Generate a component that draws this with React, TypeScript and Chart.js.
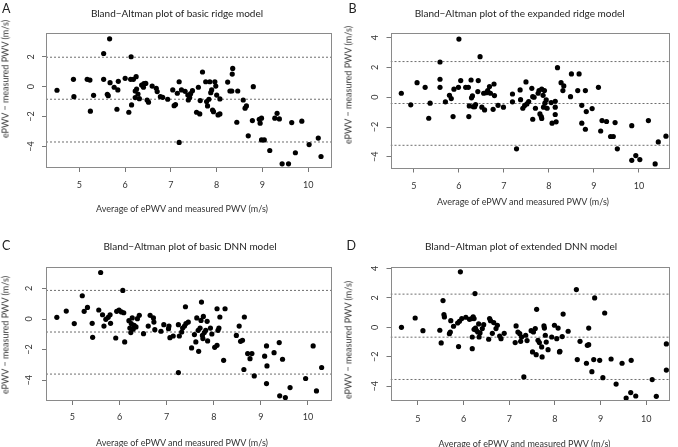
import React, { useEffect, useRef } from 'react';
import { Chart, registerables } from 'chart.js';

Chart.register(...registerables);

// ---------- data ----------
const X_TICKS = [5, 6, 7, 8, 9, 10];
const Y_TICKS_AC = [-4, -2, 0, 2];
const Y_TICKS_BD = [-4, -2, 0, 2, 4];

const TITLE_A = 'Bland\u2212Altman plot of basic ridge model';
const TITLE_B = 'Bland\u2212Altman plot of the expanded ridge model';
const TITLE_C = 'Bland\u2212Altman plot of basic DNN model';
const TITLE_D = 'Bland\u2212Altman plot of extended DNN model';
const X_TITLE = 'Average of ePWV and measured PWV (m/s)';
const Y_TITLE = 'ePWV \u2212 measured PWV (m/s)';

const A_AVG = [4.51, 4.87, 4.88, 5.17, 5.23, 5.24, 5.31, 5.53, 5.53, 5.66,
  5.63, 5.61, 5.67, 5.76, 5.82, 5.84, 5.85, 6.0, 6.08, 6.13,
  6.12, 6.14, 6.18, 6.22, 6.22, 6.24, 6.25, 6.28, 6.31, 6.36,
  6.40, 6.41, 6.45, 6.48, 6.51, 6.59, 6.68, 6.70, 6.77, 6.82,
  6.93, 7.04, 7.07, 7.10, 7.14, 7.18, 7.18, 7.23, 7.31, 7.37,
  7.38, 7.41, 7.43, 7.47, 7.56, 7.60, 7.63, 7.64, 7.69, 7.76,
  7.78, 7.80, 7.83, 7.85, 7.87, 7.89, 7.91, 7.93, 7.96, 7.98,
  8.0, 8.03, 8.07, 8.07, 8.24, 8.29, 8.33, 8.34, 8.35, 8.46,
  8.44, 8.58, 8.62, 8.65, 8.69, 8.78, 8.80, 8.93, 8.95, 8.98,
  8.98, 9.04, 9.16, 9.27, 9.32, 9.37, 9.43, 9.57, 9.64, 9.72,
  9.86, 10.02, 10.22, 10.28];
const A_DIFF = [-0.24, 0.49, -0.67, 0.49, 0.44, -1.64, -0.58, 2.22, 0.49, 3.2,
  -0.6, -0.51, 0.27, -0.04, -1.51, -0.22, 0.36, 0.56, -1.71, 2.0,
  0.49, -1.22, 0.49, -0.29, -0.73, 0.67, -0.16, -0.49, -0.8, 0.11,
  -0.04, 0.2, 0.22, -0.89, -1.04, 0.04, -0.11, -0.33, -0.67, -0.71,
  -0.84, -0.22, -1.27, -1.2, -0.44, 0.33, -3.73, -0.22, -0.31, -0.56,
  -0.89, -0.73, -0.47, -0.27, -1.71, -0.04, -1.82, -0.93, 0.98, 0.33,
  -1.0, -1.29, -0.84, 0.33, -0.4, -0.22, -1.56, -1.67, 0.33, 0.04,
  -0.56, -1.89, -1.82, -0.82, 0.31, -0.29, -0.29, 0.84, 1.22, -0.29,
  -2.38, -0.89, -1.44, -1.29, -3.29, -2.27, 0.0, -2.18, -2.44, -2.11,
  -3.56, -3.56, -4.27, -2.11, -1.78, -2.16, -5.16, -5.16, -2.4, -4.42,
  -2.31, -3.87, -3.44, -4.67];
const A_LINES = [1.97, -0.84, -3.7];

const B_AVG = [4.72, 4.93, 5.07, 5.25, 5.33, 5.36, 5.58, 5.58, 5.58, 5.70,
  5.79, 5.83, 5.87, 5.89, 5.99, 6.0, 6.04, 6.15, 6.21, 6.22,
  6.23, 6.27, 6.28, 6.30, 6.32, 6.35, 6.37, 6.42, 6.43, 6.47,
  6.51, 6.55, 6.57, 6.61, 6.64, 6.68, 6.70, 6.76, 6.78, 6.79,
  6.87, 6.99, 7.19, 7.19, 7.28, 7.36, 7.37, 7.42, 7.46, 7.49,
  7.51, 7.55, 7.62, 7.64, 7.64, 7.67, 7.70, 7.76, 7.78, 7.80,
  7.83, 7.84, 7.84, 7.87, 7.88, 7.90, 7.91, 7.94, 7.96, 8.05,
  8.07, 8.14, 8.14, 8.14, 8.16, 8.19, 8.27, 8.31, 8.33, 8.48,
  8.50, 8.64, 8.67, 8.73, 8.73, 8.81, 8.81, 8.83, 8.96, 9.10,
  9.15, 9.18, 9.28, 9.37, 9.43, 9.47, 9.52, 9.84, 9.84, 9.93,
  10.02, 10.21, 10.36, 10.43, 10.6];
const B_DIFF = [0.27, -0.51, 0.98, 0.67, -1.41, -0.4, 2.37, 1.21, 0.67, -0.31,
  0.13, -0.09, -1.30, 0.54, 0.67, 3.91, 1.12, 0.67, 0.67, -1.30,
  -0.58, 1.16, -0.04, 0.09, -0.63, -0.63, -0.49, 0.38, 1.12, 2.73,
  -0.67, 0.27, -0.85, 0.31, 0.45, 0.72, 0.27, -0.81, 0.89, 0.11,
  -0.54, -0.67, 0.22, -0.31, -3.47, 0.49, -0.16, -0.74, -0.56, 1.03,
  -0.45, -0.29, 0.60, 0.04, -1.48, 0.0, -0.74, 0.27, 0.45, -1.12,
  -1.30, -1.43, 0.54, 0.13, -0.67, 0.45, -0.40, -0.18, -0.74, -0.36,
  -1.74, -0.27, -0.67, -1.16, -1.65, 1.99, 0.98, 0.45, 0.76, 0.04,
  1.57, 0.45, 1.57, -1.74, -0.54, 0.45, -2.15, -0.96, -0.76, 0.67,
  -2.27, -1.57, -1.63, -2.64, -2.64, -1.70, -3.47, -1.91, -4.24, -3.92,
  -4.19, -1.57, -4.48, -3.0, -2.62];
const B_LINES = [2.4, -0.42, -3.23];

const C_AVG = [4.67, 4.87, 5.04, 5.21, 5.25, 5.32, 5.42, 5.43, 5.56, 5.60,
  5.64, 5.67, 5.71, 5.76, 5.80, 5.81, 5.92, 5.94, 5.99, 6.04,
  6.07, 6.09, 6.11, 6.20, 6.22, 6.24, 6.25, 6.27, 6.29, 6.31,
  6.35, 6.38, 6.42, 6.51, 6.61, 6.65, 6.72, 6.73, 6.75, 6.88,
  6.94, 7.04, 7.05, 7.07, 7.14, 7.25, 7.25, 7.27, 7.32, 7.34,
  7.38, 7.41, 7.40, 7.46, 7.53, 7.59, 7.62, 7.64, 7.67, 7.68,
  7.71, 7.73, 7.74, 7.76, 7.77, 7.78, 7.80, 7.83, 7.86, 7.87,
  7.93, 7.96, 8.02, 8.07, 8.07, 8.09, 8.11, 8.13, 8.21, 8.24,
  8.48, 8.54, 8.57, 8.61, 8.64, 8.65, 8.72, 8.77, 8.81, 8.86,
  9.08, 9.12, 9.13, 9.12, 9.28, 9.39, 9.40, 9.46, 9.52, 9.62,
  9.95, 10.11, 10.18, 10.29];
const C_DIFF = [0.11, 0.52, -0.30, 1.52, 0.50, 0.76, -0.28, -1.20, 0.59, 3.04,
  0.28, -0.46, -0.02, 0.11, 0.28, -0.28, -1.24, 0.50, 0.59, 0.46,
  1.87, 0.41, -1.50, -0.11, -0.59, -0.89, -0.30, 0.07, -0.67, -0.41,
  -0.52, 0.02, 0.24, -0.96, -0.46, 0.24, 0.07, -0.20, -0.70, -0.80,
  -0.37, -0.63, -0.46, -1.22, -1.11, -3.50, -0.37, -1.11, -0.85, -0.59,
  -0.46, -0.30, 0.80, -0.20, -1.89, -1.02, -1.50, 0.07, -0.74, -2.11,
  -0.59, -0.09, 1.11, -1.07, -1.28, 0.17, -0.89, -0.74, -0.15, -1.43,
  -0.59, -0.98, -1.85, 0.67, -1.72, -0.74, -0.59, 0.13, -2.70, 0.67,
  -1.07, -0.46, -1.46, -1.39, -3.30, 0.13, -2.26, -2.59, -2.26, -3.72,
  -2.43, -1.76, -3.07, -4.22, -2.20, -1.54, -5.02, -2.63, -5.13, -4.48,
  -3.89, -1.76, -4.70, -3.17];
const C_LINES = [1.87, -0.85, -3.6];

const D_AVG = [4.64, 4.94, 5.11, 5.55, 5.57, 5.58, 5.48, 5.51, 5.71, 5.69,
  5.72, 5.78, 5.87, 5.89, 5.91, 5.93, 5.96, 6.05, 6.13, 6.18,
  6.19, 6.19, 6.21, 6.23, 6.23, 6.25, 6.26, 6.28, 6.31, 6.33,
  6.34, 6.36, 6.41, 6.44, 6.55, 6.57, 6.59, 6.63, 6.66, 6.71,
  6.74, 6.79, 6.82, 6.89, 7.13, 7.15, 7.19, 7.23, 7.25, 7.27,
  7.32, 7.36, 7.39, 7.48, 7.51, 7.53, 7.57, 7.59, 7.60, 7.63,
  7.66, 7.71, 7.72, 7.76, 7.77, 7.79, 7.81, 7.85, 7.93, 7.99,
  8.04, 8.07, 8.10, 8.11, 8.16, 8.18, 8.29, 8.47, 8.49, 8.55,
  8.69, 8.71, 8.74, 8.74, 8.81, 8.85, 8.87, 8.98, 9.05, 9.09,
  9.23, 9.34, 9.47, 9.56, 9.66, 9.67, 9.77, 10.13, 10.22, 10.44,
  10.44];
const D_DIFF = [0.0, 0.63, -0.23, 1.81, 0.86, 0.70, -0.20, -1.06, -0.32, -0.43,
  0.45, 0.07, 0.29, -1.31, 0.41, 3.76, 0.59, 0.68, 0.54, 0.59,
  -0.66, -1.45, 0.70, 0.59, -0.14, 2.29, -0.05, -0.20, -0.32, 0.23,
  -0.66, -0.38, -0.09, 0.18, -0.81, 0.59, 0.45, -0.41, 0.32, -0.09,
  0.14, -0.59, -0.77, -0.41, -1.04, 0.09, -0.32, -0.43, -0.95, -0.66,
  -3.37, -0.54, -0.90, -0.23, -1.67, -0.32, -0.09, -1.86, 1.22, -0.88,
  -1.04, -1.33, -2.01, 0.09, -0.05, -0.54, -1.00, -1.52, -0.66, 0.14,
  -0.77, -0.05, -1.67, -1.63, -0.63, 0.90, -0.27, 2.56, -2.19, -0.95,
  -2.44, -1.22, -1.18, -0.05, -3.01, -2.19, 1.99, -2.24, -3.42, 0.97,
  -2.15, -3.85, -2.44, -4.80, -4.43, -2.24, -4.66, -3.55, -4.68, -1.13,
  -2.90];
const D_LINES = [2.25, -0.67, -3.54];

// ---------- layout ----------
type Panel = {
  letter: string; title: string; avg: number[]; diff: number[]; lines: number[]; yTicks: number[];
  xMin: number; xMax: number; yMin: number; yMax: number;
  left: number; top: number; width: number; height: number;
  pad: { left: number; top: number; right: number; bottom: number };
  yW: number; xH: number; yTickPad: number; xTickPad: number;
  letterPos: [number, number]; titlePos: [number, number]; xTitlePos: [number, number]; yTitlePos: [number, number];
};

const PANELS: Panel[] = [
  {
    letter: 'A', title: TITLE_A, avg: A_AVG, diff: A_DIFF, lines: A_LINES, yTicks: Y_TICKS_AC,
    xMin: 4.27, xMax: 10.52, yMin: -5.44, yMax: 3.59,
    left: 0, top: 0, width: 339, height: 222,
    pad: { left: 0, top: 33, right: 7, bottom: 24 }, yW: 46, xH: 30, yTickPad: 6, xTickPad: 8,
    letterPos: [6.3, 8.5], titlePos: [177, 13], xTitlePos: [182, 207.5], yTitlePos: [5, 78.5],
  },
  {
    letter: 'B', title: TITLE_B, avg: B_AVG, diff: B_DIFF, lines: B_LINES, yTicks: Y_TICKS_BD,
    xMin: 4.48, xMax: 10.69, yMin: -4.79, yMax: 4.32,
    left: 339, top: 0, width: 339, height: 222,
    pad: { left: 0, top: 33, right: 8, bottom: 23.5 }, yW: 51.5, xH: 30, yTickPad: 6.3, xTickPad: 8.5,
    letterPos: [352.5, 8.5], titlePos: [519.7, 13], xTitlePos: [523, 201], yTitlePos: [347.7, 85],
  },
  {
    letter: 'C', title: TITLE_C, avg: C_AVG, diff: C_DIFF, lines: C_LINES, yTicks: Y_TICKS_AC,
    xMin: 4.44, xMax: 10.51, yMin: -5.36, yMax: 3.40,
    left: 0, top: 222, width: 339, height: 225,
    pad: { left: 0, top: 45, right: 7, bottom: 16 }, yW: 46, xH: 30, yTickPad: 7.5, xTickPad: 7,
    letterPos: [6.3, 245.5], titlePos: [190, 246], xTitlePos: [182, 442], yTitlePos: [5, 335],
  },
  {
    letter: 'D', title: TITLE_D, avg: D_AVG, diff: D_DIFF, lines: D_LINES, yTicks: Y_TICKS_BD,
    xMin: 4.40, xMax: 10.52, yMin: -5.0, yMax: 4.09,
    left: 339, top: 222, width: 339, height: 225,
    pad: { left: 0, top: 45, right: 8, bottom: 16 }, yW: 51.5, xH: 30, yTickPad: 6.3, xTickPad: 9,
    letterPos: [351.3, 245.5], titlePos: [521, 246], xTitlePos: [524.5, 442.7], yTitlePos: [348, 340],
  },
];

const FONT = 'Lato, "Open Sans", sans-serif';
const fmt = (v: number) => (v < 0 ? '\u2212' + Math.abs(v) : String(v));

const boxPlugin = {
  id: 'rbox',
  afterDatasetsDraw(chart: any) {
    const { ctx, chartArea } = chart;
    const l = Math.round(chartArea.left) + 0.5;
    const t = Math.round(chartArea.top) + 0.5;
    const r = Math.round(chartArea.right) - 0.5;
    const b = Math.round(chartArea.bottom) - 0.5;
    ctx.save();
    ctx.strokeStyle = '#8a8a8a';
    ctx.lineWidth = 1;
    ctx.strokeRect(l, t, r - l, b - t);
    ctx.restore();
  },
};

function PanelChart({ p }: { p: Panel }) {
  const ref = useRef<HTMLCanvasElement | null>(null);
  useEffect(() => {
    if (!ref.current) return;
    const points = p.avg.map((x, i) => ({ x, y: p.diff[i] }));
    const lineSets = p.lines.map((v) => ({
      type: 'line' as const,
      data: [{ x: p.xMin, y: v }, { x: p.xMax, y: v }],
      borderColor: '#6e6e6e',
      borderWidth: 1,
      borderDash: [2, 2],
      pointRadius: 0,
      fill: false,
      order: 2,
    }));
    const chart = new Chart(ref.current, {
      type: 'scatter',
      data: {
        datasets: [
          {
            type: 'scatter',
            data: points,
            pointRadius: 2.6,
            pointBackgroundColor: '#000',
            pointBorderWidth: 0,
            pointBorderColor: '#000',
            order: 0,
          } as any,
          ...(lineSets as any[]),
        ],
      },
      options: {
        animation: false,
        responsive: false,
        devicePixelRatio: 1,
        layout: { padding: p.pad },
        plugins: { legend: { display: false }, tooltip: { enabled: false }, title: { display: false } },
        scales: {
          x: {
            type: 'linear',
            min: p.xMin,
            max: p.xMax,
            afterBuildTicks: (scale: any) => { scale.ticks = X_TICKS.map((value) => ({ value })); },
            afterFit: (scale: any) => { scale.height = p.xH; },
            ticks: { font: { family: FONT, size: 9 }, color: '#333', padding: p.xTickPad, callback: (v: any) => fmt(Number(v)), maxRotation: 0, minRotation: 0 },
            grid: { drawOnChartArea: false, drawTicks: true, tickLength: 4, color: '#777', lineWidth: 1 },
            border: { display: false },
          },
          y: {
            type: 'linear',
            min: p.yMin,
            max: p.yMax,
            afterBuildTicks: (scale: any) => { scale.ticks = p.yTicks.map((value) => ({ value })); },
            afterFit: (scale: any) => { scale.width = p.yW; },
            ticks: { font: { family: FONT, size: 9 }, color: '#333', padding: p.yTickPad, minRotation: 90, maxRotation: 90, crossAlign: 'center', callback: (v: any) => fmt(Number(v)) },
            grid: { drawOnChartArea: false, drawTicks: true, tickLength: 4, color: '#777', lineWidth: 1 },
            border: { display: false },
          },
        },
      } as any,
      plugins: [boxPlugin],
    });
    return () => chart.destroy();
  }, [p]);
  return (
    <canvas
      ref={ref}
      width={p.width}
      height={p.height}
      style={{ position: 'absolute', left: p.left, top: p.top, width: p.width, height: p.height }}
    />
  );
}

const textBase: React.CSSProperties = {
  position: 'absolute',
  whiteSpace: 'nowrap',
  lineHeight: 1,
  fontFamily: FONT,
  color: '#222',
};

export default function App() {
  return (
    <div style={{ position: 'absolute', left: 0, top: 0, width: 678, height: 447, background: '#fff', overflow: 'hidden' }}>
      {PANELS.map((p) => (
        <React.Fragment key={p.letter}>
          <PanelChart p={p} />
          <div style={{ ...textBase, left: p.letterPos[0], top: p.letterPos[1], fontSize: 12.5, transform: 'translate(-50%,-50%)' }}>{p.letter}</div>
          <div style={{ ...textBase, left: p.titlePos[0], top: p.titlePos[1], fontSize: 10, transform: 'translate(-50%,-50%)' }}>{p.title}</div>
          <div style={{ ...textBase, left: p.xTitlePos[0], top: p.xTitlePos[1], fontSize: 9, color: '#333', transform: 'translate(-50%,-50%)' }}>{X_TITLE}</div>
          <div style={{ ...textBase, left: p.yTitlePos[0], top: p.yTitlePos[1], fontSize: 9, color: '#333', transform: 'translate(-50%,-50%) rotate(-90deg)' }}>{Y_TITLE}</div>
        </React.Fragment>
      ))}
    </div>
  );
}
